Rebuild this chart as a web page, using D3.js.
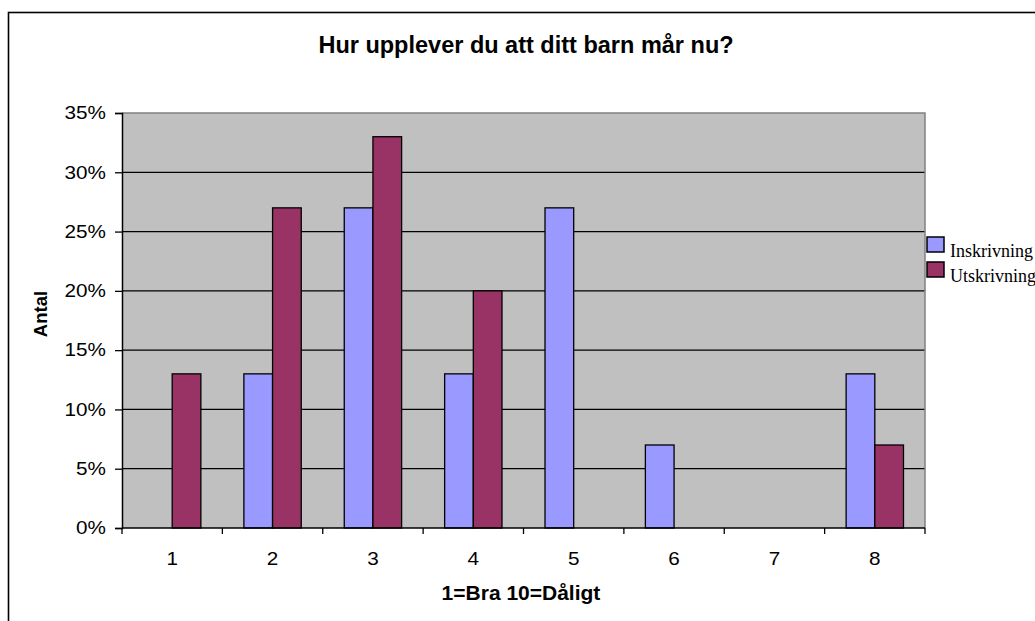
<!DOCTYPE html>
<html>
<head>
<meta charset="utf-8">
<script src="https://cdn.jsdelivr.net/npm/d3@7"></script>
<style>
  body { margin: 0; background: #fff; }
</style>
</head>
<body>
<svg id="chart" width="1035" height="621"></svg>
<script>
// data (percent)
var categories = ["1", "2", "3", "4", "5", "6", "7", "8"];
var seriesNames = ["Inskrivning", "Utskrivning"];
var inskrivning = [0, 13, 27, 13, 27, 7, 0, 13];
var utskrivning = [13, 27, 33, 20, 0, 0, 0, 7];
var yTicks = [0, 5, 10, 15, 20, 25, 30, 35];
var colors = ["#9999ff", "#993366"];

var svg = d3.select("#chart");
var font = "Arial, 'Liberation Sans', sans-serif";

// outer chart border (runs off the right and bottom)
svg.append("rect")
    .attr("x", 8.5).attr("y", 12.5)
    .attr("width", 1040).attr("height", 620)
    .attr("fill", "none")
    .attr("stroke", "#000")
    .attr("stroke-width", 1.6);

var pLeft = 122, pRight = 925, pTop = 113, pBottom = 528;

var x = d3.scaleBand()
    .domain(categories)
    .range([pLeft, pRight])
    .paddingInner(0).paddingOuter(0);

var y = d3.scaleLinear()
    .domain([0, 35])
    .range([pBottom, pTop]);

// bar width like Excel with gap width 150
var barW = x.bandwidth() / 3.5;

// plot area
svg.append("rect")
    .attr("x", pLeft).attr("y", pTop)
    .attr("width", pRight - pLeft).attr("height", pBottom - pTop)
    .attr("fill", "#c0c0c0");

// gridlines
svg.selectAll(".grid")
    .data(yTicks.filter(function(d) { return d > 0 && d < 35; }))
    .enter().append("line")
    .attr("x1", pLeft).attr("x2", pRight)
    .attr("y1", function(d) { return y(d); })
    .attr("y2", function(d) { return y(d); })
    .attr("stroke", "#000")
    .attr("stroke-width", 1.3);

// top and right border of plot area (gray)
svg.append("path")
    .attr("d", "M" + pLeft + "," + pTop + "H" + pRight + "V" + pBottom)
    .attr("fill", "none")
    .attr("stroke", "#808080")
    .attr("stroke-width", 1.5);

var data = [inskrivning, utskrivning];
data.forEach(function(vals, s) {
    var pts = vals.map(function(v, i) { return { cat: categories[i], value: v }; })
        .filter(function(d) { return d.value > 0; });
    svg.selectAll(".bar" + s)
        .data(pts)
        .enter().append("rect")
        .attr("class", "bar" + s)
        .attr("x", function(d) {
            return x(d.cat) + x.bandwidth() / 2 - barW + s * barW;
        })
        .attr("y", function(d) { return y(d.value); })
        .attr("width", barW)
        .attr("height", function(d) { return pBottom - y(d.value); })
        .attr("fill", colors[s])
        .attr("stroke", "#000")
        .attr("stroke-width", 1.3);
});

// y axis
var yAxis = d3.axisLeft(y)
    .tickValues(yTicks)
    .tickSize(7)
    .tickFormat(function(d) { return d + "%"; });

var gy = svg.append("g")
    .attr("transform", "translate(" + pLeft + ",0)")
    .call(yAxis);
gy.select(".domain").attr("stroke", "#000").attr("stroke-width", 1.5);
gy.selectAll(".tick line").attr("stroke", "#000").attr("stroke-width", 1.3);
gy.selectAll(".tick text")
    .attr("x", 0)
    .attr("transform", "translate(-16,0) scale(1.15,1)")
    .attr("font-family", font)
    .attr("font-size", "18px")
    .attr("fill", "#000");

// x axis: ticks between categories
var gx = svg.append("g");
gx.append("line")
    .attr("x1", pLeft).attr("x2", pRight)
    .attr("y1", pBottom).attr("y2", pBottom)
    .attr("stroke", "#000").attr("stroke-width", 1.5);
var bounds = categories.map(function(c) { return x(c); }).concat([pRight]);
gx.selectAll(".xt")
    .data(bounds)
    .enter().append("line")
    .attr("x1", function(d) { return d; })
    .attr("x2", function(d) { return d; })
    .attr("y1", pBottom).attr("y2", pBottom + 6)
    .attr("stroke", "#000").attr("stroke-width", 1.3);
gx.selectAll(".xl")
    .data(categories)
    .enter().append("text")
    .attr("transform", function(d) {
        return "translate(" + (x(d) + x.bandwidth() / 2) + ",565) scale(1.15,1)";
    })
    .attr("text-anchor", "middle")
    .attr("font-family", font)
    .attr("font-size", "18px")
    .text(function(d) { return d; });

// titles
svg.append("text")
    .attr("x", 526).attr("y", 53)
    .attr("text-anchor", "middle")
    .attr("font-family", font)
    .attr("font-size", "23.5px")
    .attr("font-weight", "bold")
    .text("Hur upplever du att ditt barn mår nu?");

svg.append("text")
    .attr("x", 521).attr("y", 600)
    .attr("text-anchor", "middle")
    .attr("font-family", font)
    .attr("font-size", "21px")
    .attr("font-weight", "bold")
    .text("1=Bra 10=Dåligt");

svg.append("text")
    .attr("transform", "translate(47,314) rotate(-90)")
    .attr("text-anchor", "middle")
    .attr("font-family", font)
    .attr("font-size", "18.5px")
    .attr("font-weight", "bold")
    .text("Antal");

// legend
var legend = svg.selectAll(".legend")
    .data(seriesNames)
    .enter().append("g")
    .attr("transform", function(d, i) { return "translate(927," + (237 + i * 25) + ")"; });
legend.append("rect")
    .attr("width", 17).attr("height", 15)
    .attr("fill", function(d, i) { return colors[i]; })
    .attr("stroke", "#000")
    .attr("stroke-width", 1.5);
legend.append("text")
    .attr("x", 23).attr("y", 20)
    .attr("font-family", "'Times New Roman', 'Liberation Serif', serif")
    .attr("font-size", "18px")
    .text(function(d) { return d; });
</script>
</body>
</html>
